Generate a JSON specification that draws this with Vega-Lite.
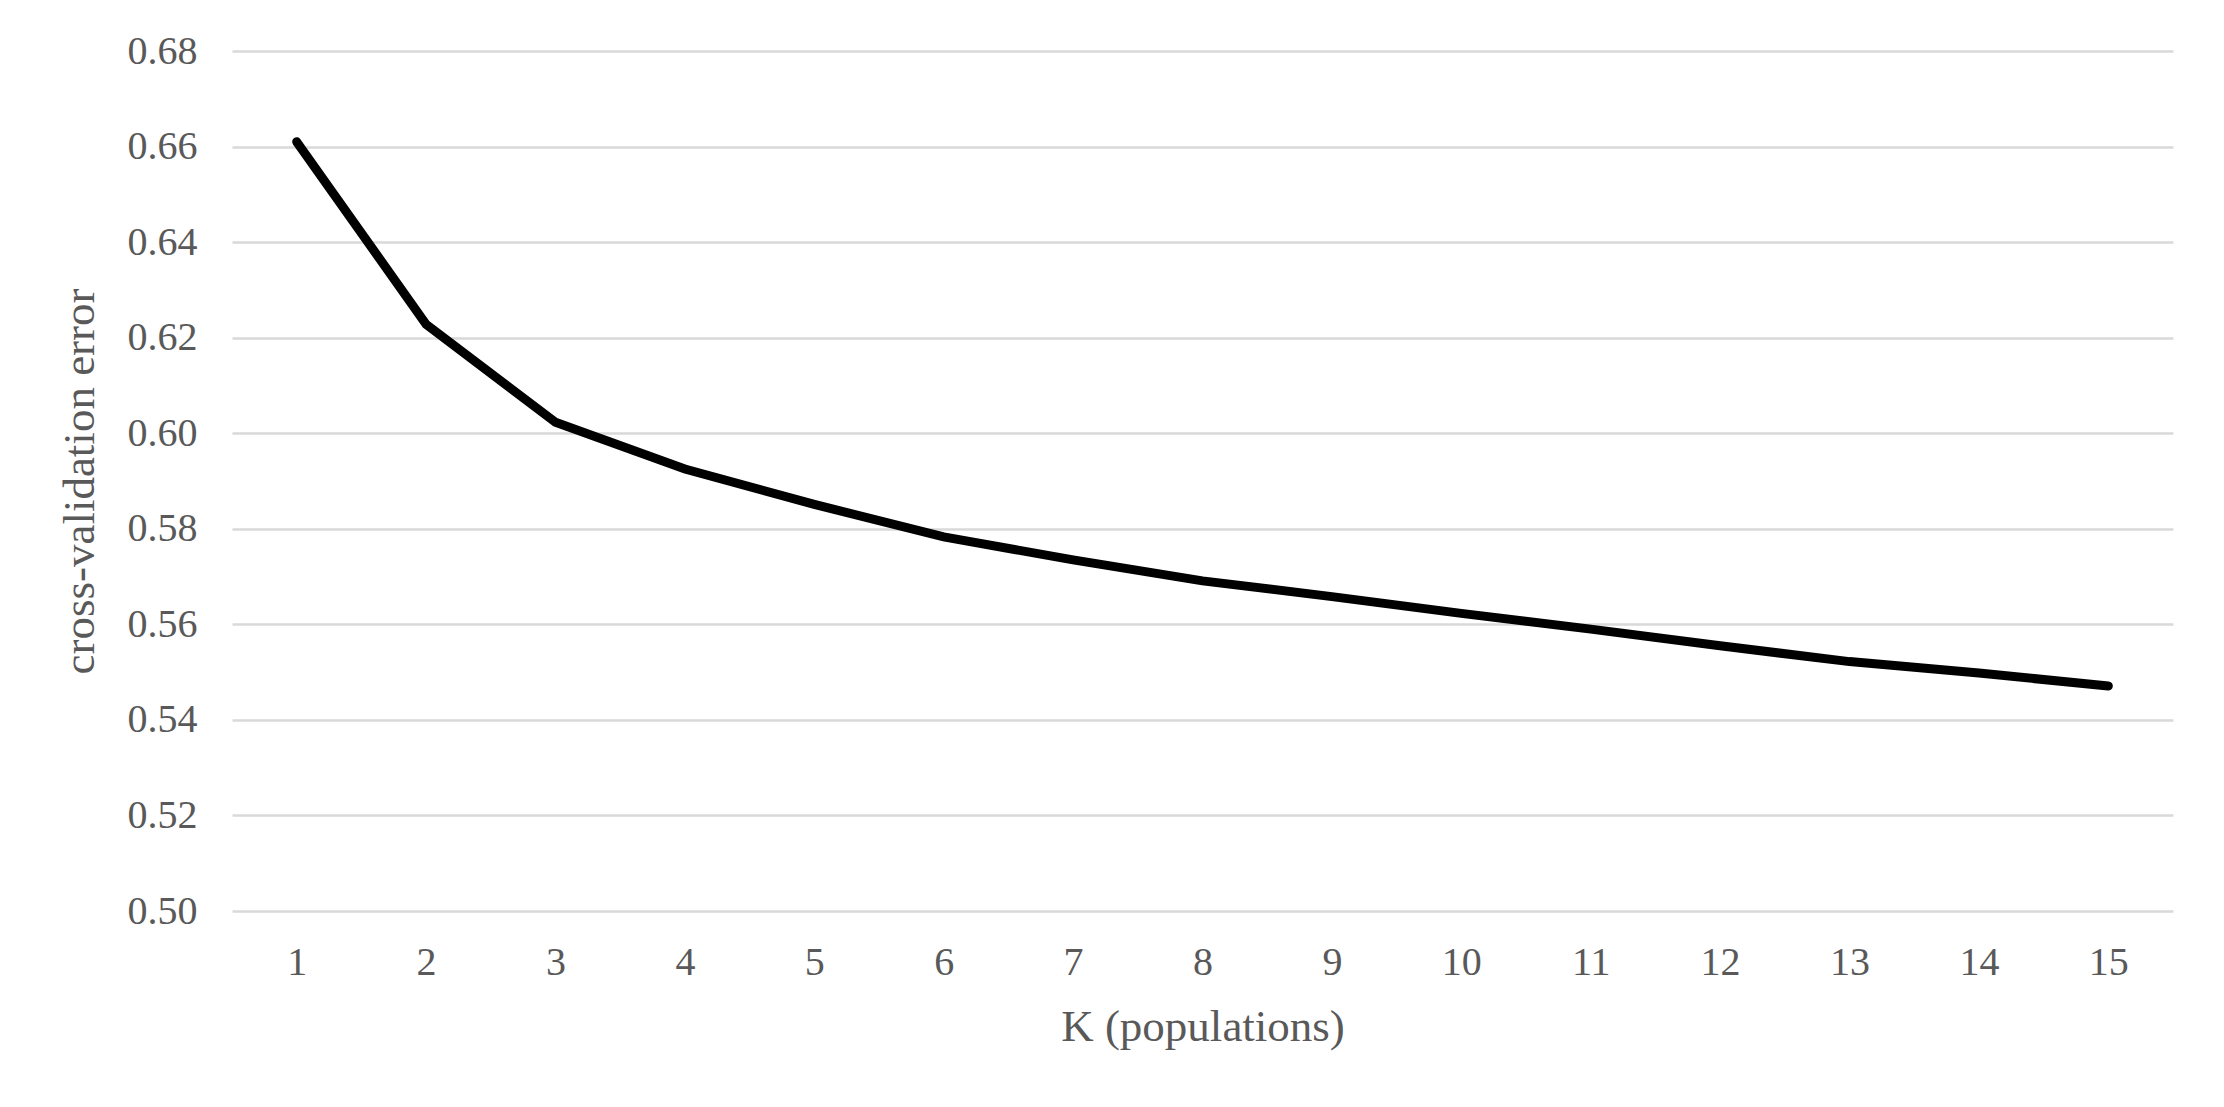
{
  "$schema": "https://vega.github.io/schema/vega-lite/v6.json",
  "autosize": "none",
  "width": 1941,
  "height": 860,
  "padding": {"left": 232, "top": 51, "right": 51, "bottom": 196},
  "background": "white",
  "data": {
    "values": [
      {"K": 1, "error": 0.6610},
      {"K": 2, "error": 0.6228},
      {"K": 3, "error": 0.6023},
      {"K": 4, "error": 0.5925},
      {"K": 5, "error": 0.5851},
      {"K": 6, "error": 0.5783},
      {"K": 7, "error": 0.5735},
      {"K": 8, "error": 0.5691},
      {"K": 9, "error": 0.5658},
      {"K": 10, "error": 0.5623},
      {"K": 11, "error": 0.5590},
      {"K": 12, "error": 0.5555},
      {"K": 13, "error": 0.5522},
      {"K": 14, "error": 0.5498},
      {"K": 15, "error": 0.5471}
    ]
  },
  "mark": {"type": "line", "color": "#000000", "strokeWidth": 9, "strokeCap": "round", "strokeJoin": "miter"},
  "encoding": {
    "x": {
      "field": "K",
      "type": "ordinal",
      "scale": {"type": "point", "padding": 0.5},
      "axis": {
        "title": "K (populations)",
        "labelAngle": 0,
        "domain": false,
        "ticks": false,
        "grid": false,
        "labelPadding": 31,
        "titlePadding": 22
      }
    },
    "y": {
      "field": "error",
      "type": "quantitative",
      "scale": {"domain": [0.5, 0.68], "nice": false, "zero": false},
      "axis": {
        "title": "cross-validation error",
        "values": [0.5, 0.52, 0.54, 0.56, 0.58, 0.6, 0.62, 0.64, 0.66, 0.68],
        "format": ".2f",
        "domain": false,
        "ticks": false,
        "grid": true,
        "labelPadding": 35,
        "titlePadding": 25
      }
    }
  },
  "config": {
    "view": {"stroke": null},
    "font": "Liberation Serif",
    "axis": {
      "labelFont": "Liberation Serif",
      "titleFont": "Liberation Serif",
      "labelFontSize": 40,
      "titleFontSize": 45,
      "labelColor": "#595959",
      "titleColor": "#595959",
      "titleFontWeight": "normal",
      "gridColor": "#d9d9d9",
      "gridWidth": 2.5,
      "gridOpacity": 1
    }
  }
}
